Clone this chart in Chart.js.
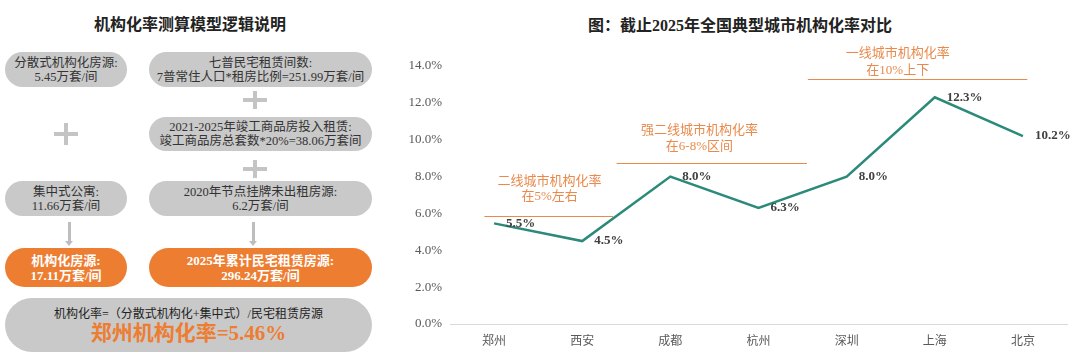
<!DOCTYPE html>
<html lang="zh">
<head>
<meta charset="UTF-8">
<title>机构化率对比</title>
<script src="https://cdn.jsdelivr.net/npm/chart.js"></script>
<style>
  html, body { margin: 0; padding: 0; background: #fff; }
  body { width: 1080px; height: 364px; position: relative; overflow: hidden;
         font-family: "Liberation Serif", "Noto Sans CJK SC", serif; }
  .title { position: absolute; font-weight: bold; color: #222; font-size: 16px; white-space: nowrap;
           transform: translate(-50%, -50%); }
  .box { position: absolute; border-radius: 18px; background: #c9c9c9; color: #333;
         display: flex; flex-direction: column; justify-content: center; align-items: center;
         font-size: 12.5px; line-height: 14px; white-space: nowrap; }
  .box.orange { background: #ed7d31; color: #fff; font-weight: bold; font-size: 13px; line-height: 15px; }
  .plus { position: absolute; }
  .plus::before, .plus::after { content: ""; position: absolute; background: #c4c4c4; }
  .plus::before { left: 0; right: 0; top: 50%; height: 4px; margin-top: -2px; }
  .plus::after { top: 0; bottom: 0; left: 50%; width: 4px; margin-left: -2px; }
  .arrow { position: absolute; width: 3px; background: #bdbdbd; }
  .arrow::after { content: ""; position: absolute; left: -3px; bottom: -4px;
                  border-left: 4.5px solid transparent; border-right: 4.5px solid transparent;
                  border-top: 5px solid #bdbdbd; }
  #chart { position: absolute; left: 390px; top: 0; }
</style>
</head>
<body>
  <div class="title" style="left:190px; top:23px;">机构化率测算模型逻辑说明</div>

  <div class="box" style="left:5px; top:52px; width:122px; height:35px;">
    <div>分散式机构化房源:</div><div>5.45万套/间</div></div>
  <div class="box" style="left:149px; top:52px; width:223px; height:35px;">
    <div>七普民宅租赁间数:</div><div>7普常住人口*租房比例=251.99万套/间</div></div>
  <div class="plus" style="left:243px; top:91px; width:24px; height:18px;"></div>
  <div class="box" style="left:149px; top:117px; width:223px; height:34px;">
    <div>2021-2025年竣工商品房投入租赁:</div><div>竣工商品房总套数*20%=38.06万套间</div></div>
  <div class="plus" style="left:54px; top:123px; width:24px; height:22px;"></div>
  <div class="plus" style="left:243px; top:160px; width:24px; height:18px;"></div>
  <div class="box" style="left:5px; top:181px; width:122px; height:35px;">
    <div>集中式公寓:</div><div>11.66万套/间</div></div>
  <div class="box" style="left:149px; top:181px; width:223px; height:35px;">
    <div>2020年节点挂牌未出租房源:</div><div>6.2万套/间</div></div>
  <div class="arrow" style="left:68px; top:222px; height:20px;"></div>
  <div class="arrow" style="left:252px; top:222px; height:20px;"></div>
  <div class="box orange" style="left:5px; top:248px; width:122px; height:39px; border-radius:20px;">
    <div>机构化房源:</div><div>17.11万套/间</div></div>
  <div class="box orange" style="left:149px; top:248px; width:223px; height:39px; border-radius:20px;">
    <div>2025年累计民宅租赁房源:</div><div>296.24万套/间</div></div>
  <div class="box" style="left:5px; top:298px; width:367px; height:54px; border-radius:27px; color:#222;">
    <div style="font-size:12px; line-height:16px;">机构化率=（分散式机构化+集中式）/民宅租赁房源</div>
    <div style="font-size:21px; line-height:22px; color:#ed7d31; font-weight:bold;">郑州机构化率=5.46%</div>
  </div>

  <div class="title" style="left:740px; top:24px;">图：截止2025年全国典型城市机构化率对比</div>
  <canvas id="chart" width="690" height="364"></canvas>

<script>
const cities = ['郑州', '西安', '成都', '杭州', '深圳', '上海', '北京'];
const rates = [5.46, 4.5, 8.0, 6.3, 8.0, 12.3, 10.2];
const yTicks = [0, 2, 4, 6, 8, 10, 12, 14];
const tierNotes = [
  { lines: ['二线城市机构化率', '在5%左右'], from: 0, to: 1 },
  { lines: ['强二线城市机构化率', '在6-8%区间'], from: 2, to: 3 },
  { lines: ['一线城市机构化率', '在10%上下'], from: 4, to: 6 }
];

const FONT = '"Liberation Serif", "Noto Sans CJK SC", serif';
const ORANGE = '#e98a4c';

// bracket position of each note, in category units and % values
const noteLayout = [
  { x0: -0.11, x1: 1.35, lineY: 5.88, textX: 0.63, textDy: [-35, -20] },
  { x0: 1.39, x1: 3.55, lineY: 8.74, textX: 2.33, textDy: [-33, -17] },
  { x0: 3.56, x1: 6.05, lineY: 13.3, textX: 4.58, textDy: [-26, -9] }
];

const extras = {
  id: 'extras',
  afterDatasetsDraw(chart) {
    const ctx = chart.ctx;
    const xs = chart.scales.x, ys = chart.scales.y;
    const step = xs.getPixelForValue(1) - xs.getPixelForValue(0);
    const px = v => xs.getPixelForValue(0) + v * step;

    ctx.save();
    // value labels
    ctx.font = 'bold 13px ' + FONT;
    ctx.fillStyle = '#404040';
    ctx.textAlign = 'left';
    ctx.textBaseline = 'middle';
    chart.getDatasetMeta(0).data.forEach((pt, i) => {
      ctx.fillText(rates[i].toFixed(1) + '%', pt.x + 12, pt.y);
    });

    // tier notes
    tierNotes.forEach((n, k) => {
      const l = noteLayout[k];
      const y = Math.round(ys.getPixelForValue(l.lineY)) + 0.5;
      ctx.strokeStyle = ORANGE;
      ctx.lineWidth = 1;
      ctx.beginPath();
      ctx.moveTo(px(l.x0), y);
      ctx.lineTo(px(l.x1), y);
      ctx.stroke();
      ctx.font = '13px ' + FONT;
      ctx.fillStyle = ORANGE;
      ctx.textAlign = 'center';
      n.lines.forEach((t, j) => ctx.fillText(t, px(l.textX), y + l.textDy[j]));
    });
    ctx.restore();
  }
};

new Chart(document.getElementById('chart'), {
  type: 'line',
  data: {
    labels: cities,
    datasets: [{
      data: rates,
      borderColor: '#2b8a7a',
      borderWidth: 2.5,
      pointRadius: 0,
      tension: 0,
      fill: false
    }]
  },
  options: {
    responsive: false,
    animation: false,
    layout: { padding: { top: 66, right: 13, bottom: 0, left: 0 } },
    plugins: { legend: { display: false }, tooltip: { enabled: false } },
    scales: {
      x: {
        offset: true,
        grid: { display: false },
        border: { color: '#d9d9d9', width: 1 },
        ticks: { color: '#595959', font: { family: FONT, size: 12 }, padding: 3 },
        afterFit: s => { s.height = 40; }
      },
      y: {
        min: 0,
        max: 14,
        afterBuildTicks: s => { s.ticks = yTicks.map(v => ({ value: v })); },
        grid: { display: false },
        border: { display: false },
        ticks: {
          color: '#595959',
          font: { family: FONT, size: 13 },
          padding: 0,
          callback: v => v.toFixed(1) + '%'
        },
        afterFit: s => { s.width = 60; }
      }
    }
  },
  plugins: [extras]
});
</script>
</body>
</html>
